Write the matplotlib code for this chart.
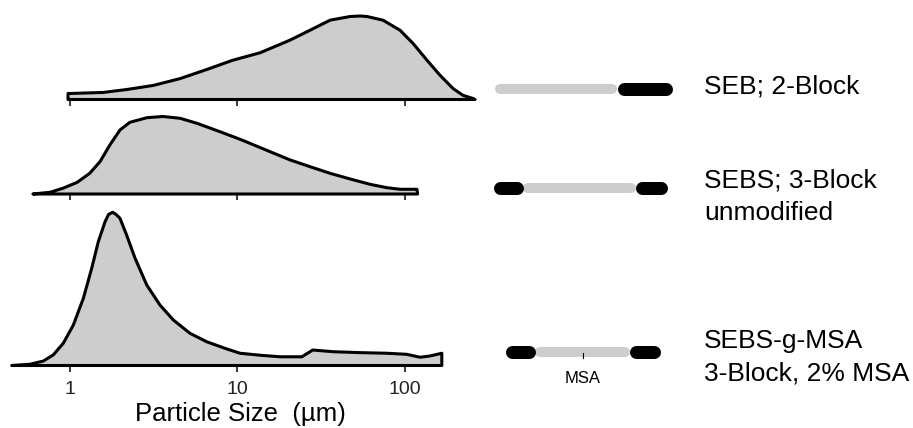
#!/usr/bin/env python3

import matplotlib
matplotlib.use('Agg')
import matplotlib.pyplot as plt

plt.rcParams['font.family'] = ['Liberation Sans', 'DejaVu Sans']

#
# Particle size distributions (relative frequency, peak = 100)
#
seb_size = [0.98, 0.98, 1.0, 1.58, 2.2, 3.15, 4.56, 6.6, 9.4, 13.7, 20.6, 27.2,
            35.8, 47.1, 54, 59.4, 74, 93.5, 112, 135.5, 162, 194, 222, 255, 262]
seb_freq = [0, 7.2, 7.2, 8.4, 12, 16.8, 25, 36, 47, 56, 71, 83,
            95, 99.4, 100, 99.4, 95, 83, 67, 47, 29, 13, 5, 1.2, 0]

sebs_size = [0.605, 0.765, 0.914, 1.11, 1.32, 1.52, 1.74, 2.0, 2.29, 2.9, 3.61,
             4.56, 5.76, 7.89, 10.4, 11.9, 15.7, 20.7, 27.2, 35.8, 47.1, 62,
             78.2, 93.5, 118, 119]
sebs_freq = [0, 2.2, 7.4, 15, 26.7, 41.7, 63.2, 82.6, 92.5, 98.5, 100,
             97.7, 91.2, 80.4, 70.6, 65.4, 54.6, 43.9, 35.2, 26.7, 19.4, 12.5,
             8.1, 6.1, 6.1, 0]

msa_size = [0.452, 0.581, 0.698, 0.80, 0.918, 1.054, 1.21, 1.356, 1.485, 1.63,
            1.71, 1.81, 1.894, 2.0, 2.19, 2.46, 2.89, 3.46, 4.16, 5.23, 6.58,
            8.66, 10.4, 13.7, 18.0, 24.3, 28.2, 37.4, 54, 77.9, 102.5, 123,
            141, 166, 166]
msa_freq = [0, 0.8, 2.9, 6.9, 14.5, 26.4, 43.9, 63.4, 80.8, 93.9,
            98.6, 100, 98.6, 96.1, 85.2, 70, 52.5, 39.5, 29.7, 21, 15.5,
            10.8, 8, 6.7, 5.7, 5.7, 10.1, 9, 8.4, 8, 7.3, 5.4,
            6.2, 8, 0]

tick_values = [1, 10, 100]
tick_labels = ['1', '10', '100']
xlabel = 'Particle Size  (\u00b5m)'

#
# Block copolymer schematics: (block, fraction of chain length)
#
seb_blocks = [('EB', 0.69), ('S', 0.31)]
sebs_blocks = [('S', 0.175), ('EB', 0.645), ('S', 0.18)]
msa_blocks = [('S', 0.195), ('EB', 0.61), ('S', 0.195)]

names = [['SEB; 2-Block'],
         ['SEBS; 3-Block', 'unmodified'],
         ['SEBS-g-MSA', '3-Block, 2% MSA']]

FILL = '#cdcdcd'
W, H = 913, 428
DPI = 100


def px2pt(p):
    return p * 72.0 / DPI


def panel(fig, base, top, peak_px, sizes, freqs, labels):
    # left edge at 0 px, width 480 px; 1 um sits at x=69.5 px, decade = 167.7 px
    ax = fig.add_axes([0, (H - base) / H, 480 / W, (base - top) / H])
    ax.set_xscale('log')
    ax.set_xlim(10 ** (-69.5 / 167.7), 10 ** (410.5 / 167.7))
    ax.set_ylim(0, 100.0 * (base - top) / peak_px)
    ax.fill(sizes, freqs, facecolor=FILL, edgecolor='black',
            linewidth=2.2, joinstyle='round', clip_on=False)
    for s in ax.spines.values():
        s.set_visible(False)
    ax.set_yticks([])
    ax.set_xticks(tick_values)
    ax.xaxis.set_minor_locator(plt.NullLocator())
    ax.tick_params(axis='x', direction='out', length=4, width=1.1,
                   pad=7, labelsize=14, labelcolor='#222222')
    if labels:
        ax.set_xticklabels(tick_labels)
    else:
        ax.set_xticklabels([])
    ax.patch.set_visible(False)
    return ax


def draw_chain(ax, x0, length, y, blocks):
    # gray (EB) drawn first, black (S) end blocks on top
    pos = x0
    segs = []
    for kind, frac in blocks:
        segs.append((kind, pos, pos + frac * length))
        pos += frac * length
    for kind, a, b in segs:
        if kind == 'EB':
            ax.plot([a + 5, b - 5], [y, y], color=FILL, lw=px2pt(10),
                    solid_capstyle='round')
    for kind, a, b in segs:
        if kind == 'S':
            ax.plot([a + 6.5, b - 6.5], [y, y], color='black', lw=px2pt(13),
                    solid_capstyle='round')
    return segs


def main():
    fig = plt.figure(figsize=(W / DPI, H / DPI), dpi=DPI)

    panel(fig, 99.5, 5, 83.5, seb_size, seb_freq, False)
    panel(fig, 194, 105, 77.5, sebs_size, sebs_freq, False)
    ax3 = panel(fig, 365.5, 205, 153.2, msa_size, msa_freq, True)
    ax3.set_xlabel(xlabel, fontsize=18.5, labelpad=3)

    # overlay in pixel units for the chain schematics and names
    axr = fig.add_axes([0, 0, 1, 1])
    axr.set_xlim(0, W)
    axr.set_ylim(H, 0)
    axr.axis('off')

    draw_chain(axr, 495, 177, 89, seb_blocks)
    draw_chain(axr, 493, 174, 188, sebs_blocks)
    segs = draw_chain(axr, 505, 155, 352, msa_blocks)

    # graft point on the middle block
    mid = 0.5 * (segs[1][1] + segs[1][2])
    axr.plot([mid, mid], [353, 358], color='black', lw=0.8)
    axr.text(mid, 383, 'MSA', fontsize=12, ha='center', va='baseline')

    baselines = [[93], [187, 220], [348, 381]]
    for lines, ys in zip(names, baselines):
        for t, yy in zip(lines, ys):
            axr.text(704, yy, t, fontsize=19, ha='left', va='baseline')

    fig.savefig('out.png', dpi=DPI)


if __name__ == '__main__':
    main()
